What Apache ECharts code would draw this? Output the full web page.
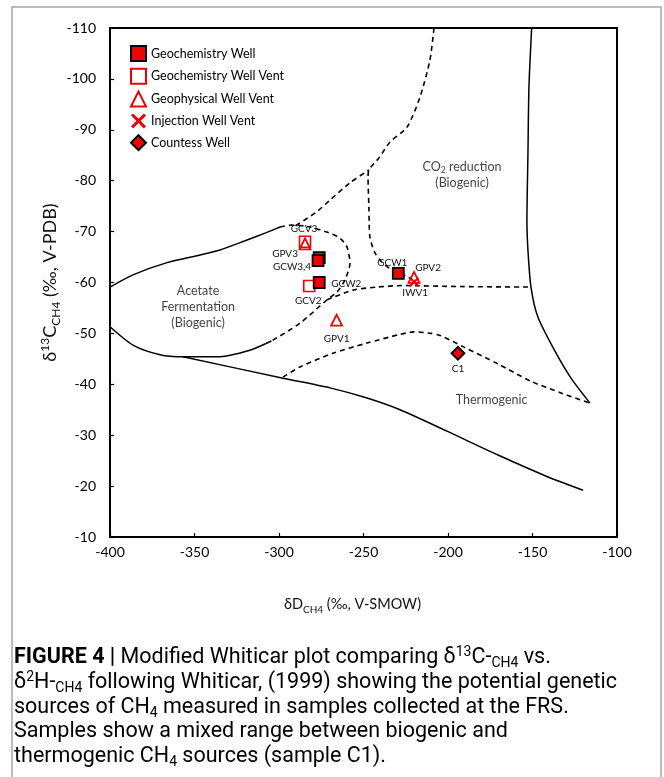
<!DOCTYPE html>
<html>
<head>
<meta charset="utf-8">
<script src="https://cdn.jsdelivr.net/npm/echarts@6/dist/echarts.min.js"></script>
<style>
html,body{margin:0;padding:0;background:#fff;}
#chart{width:664px;height:777px;}
</style>
</head>
<body>
<div id="chart"></div>
<script>
// ---------- axis ticks ----------
const xTicks = [-400, -350, -300, -250, -200, -150, -100];
const yTicks = [-110, -100, -90, -80, -70, -60, -50, -40, -30, -20, -10];

// ---------- samples: [name, δD (x), δ13C (y)] ----------
const geochemistryWell = [
  ['GCW4', -276.2, -64.9],
  ['GCW3', -276.9, -64.3],
  ['GCW2', -276.2, -60.0],
  ['GCW1', -229.4, -61.8]
];
const geochemistryWellVent = [
  ['GCV2', -282.1, -59.3],
  ['GCV3', -284.6, -68.0]
];
const geophysicalWellVent = [
  ['GPV1', -265.9, -52.6],
  ['GPV2', -220.1, -61.0],
  ['GPV3', -284.6, -67.6]
];
const injectionWellVent = [
  ['IWV1', -220.0, -60.1]
];
const countessWell = [
  ['C1', -194.1, -46.1]
];

// label texts shown next to samples
const sampleLabelText = {
  GCW4: '', GCW3: 'GCW3,4', GCW2: 'GCW2', GCW1: 'GCW1',
  GCV2: 'GCV2', GCV3: 'GCV3',
  GPV1: 'GPV1', GPV2: 'GPV2', GPV3: 'GPV3',
  IWV1: 'IWV1', C1: 'C1'
};

// ---------- Whiticar field boundaries: [δD, δ13C] ----------
const acetateUpper = [[-400, -59.1], [-386.4, -61.5], [-366.3, -63.9], [-346.7, -65.4], [-334.9, -66.4], [-320.1, -68.2], [-308.3, -69.7], [-299.4, -70.9]];
const acetateDashed = [[-299.4, -70.9], [-291.7, -71.3], [-281.7, -70.9], [-271.6, -69.9], [-263.9, -68.7], [-259.8, -67.0], [-258.0, -63.8], [-261.0, -60.5], [-265.7, -58.1], [-271.6, -56.6], [-287.6, -52.0], [-304.5, -48.5]];
const acetateLower = [[-304.5, -48.5], [-317.2, -46.7], [-336.7, -45.4], [-356.8, -45.4], [-370.4, -45.8], [-386.4, -47.7], [-400, -51.3]];
const lowerBoundary = [[-356.8, -45.4], [-297.6, -41.2], [-269.8, -39.3], [-247.9, -37.3], [-228.4, -35.0], [-200.6, -30.8], [-170.4, -26.1], [-140.8, -21.8], [-120.1, -19.2]];
const thermoRight = [[-150.5, -110], [-152.1, -98.4], [-152.7, -85.2], [-153.3, -72.1], [-152.7, -66.4], [-150.9, -59.1], [-146.8, -53.2], [-136.7, -46.5], [-127.2, -41.2], [-116.0, -36.3]];
const co2Boundary = [[-208.3, -110], [-210.7, -103.7], [-216.6, -96.4], [-224.3, -90.5], [-234.3, -87.6], [-240.8, -84.5], [-246.8, -82.1], [-247.3, -80.5], [-246.8, -74.8], [-246.2, -68.9], [-243.2, -65.8], [-238.5, -63.8], [-231.4, -62.1], [-223.7, -61.1], [-217.8, -59.7]];
const transitionLine = [[-290.0, -71.2], [-278.0, -73.8], [-269.8, -76.2], [-258.0, -79.6], [-246.8, -82.1]];
const midBoundary = [[-271.6, -56.6], [-256.2, -58.5], [-242.0, -59.1], [-226.6, -59.4], [-192.9, -59.2], [-150.9, -59.1]];
const thermoUpper = [[-297.6, -41.4], [-287.6, -43.4], [-268.1, -46.1], [-247.9, -48.1], [-228.4, -49.8], [-220.0, -50.3], [-210.0, -50.0], [-204.7, -49.6], [-190.5, -47.3], [-170.4, -44.0], [-150.9, -40.6], [-133.1, -38.3], [-116.0, -36.3]];

// ---------- field names ----------
const fieldNames = [
  ['acetate', -347.9, -55.2],
  ['co2', -191.7, -81.2],
  ['thermo', -174.2, -36.9]
];

// ---------- styling ----------
const FONT = 'Lato, "Open Sans", sans-serif';
const RED = '#f00000';
const labelOffset = {
  GCW3: [-26, 6], GCW2: [27, 1], GCW1: [-6, -11],
  GCV2: [-1, 15], GCV3: [-1, -13],
  GPV1: [0, 19], GPV2: [14, -10], GPV3: [-20, 10],
  IWV1: [1, 11], C1: [0, 16]
};

function sampleData(arr) {
  return arr.map(d => {
    const txt = sampleLabelText[d[0]];
    return {
      name: d[0],
      value: [d[1], d[2]],
      label: {
        show: !!txt,
        position: 'inside',
        offset: labelOffset[d[0]] || [0, 0],
        formatter: txt,
        color: '#111',
        fontSize: 10,
        fontFamily: FONT
      }
    };
  });
}

function boundary(name, data, dashed) {
  return {
    name: name, type: 'line', data: data, showSymbol: false, symbol: 'none',
    smooth: 0.25, silent: true, z: 1, animation: false,
    lineStyle: { color: '#000', width: dashed ? 1.6 : 1.5, type: dashed ? [5, 4] : 'solid' }
  };
}

function axisRich(size) {
  return {
    n: { fontSize: size, fontFamily: FONT, color: '#111', lineHeight: size + 5 },
    sup: { fontSize: Math.round(size * 0.66), fontFamily: FONT, color: '#111', lineHeight: Math.round(size * 0.8), verticalAlign: 'top' },
    sub: { fontSize: Math.round(size * 0.66), fontFamily: FONT, color: '#111', lineHeight: Math.round(size * 0.72), verticalAlign: 'bottom' }
  };
}

const fieldLabelText = {
  acetate: '{n|Acetate}\n{n|Fermentation}\n{n|(Biogenic)}',
  co2: '{n|CO}{s|2}{n| reduction}\n{n|(Biogenic)}',
  thermo: '{n|Thermogenic}'
};
const fieldRich = {
  n: { fontSize: 12.5, fontFamily: FONT, color: '#111', lineHeight: 16, align: 'center' },
  s: { fontSize: 8.5, fontFamily: FONT, color: '#111', lineHeight: 11, verticalAlign: 'bottom' }
};

const CAP = 21.5;
const capRich = {
  b: { fontFamily: 'Roboto', fontWeight: 'bold', fontSize: CAP, color: '#222', lineHeight: 25 },
  n: { fontFamily: 'Roboto', fontSize: CAP, color: '#222', lineHeight: 25 },
  g: { fontFamily: 'Roboto', fontSize: CAP, color: '#8a8a8a', lineHeight: 25 },
  sup: { fontFamily: 'Roboto', fontSize: 14, color: '#222', lineHeight: 14, verticalAlign: 'top' },
  sub: { fontFamily: 'Roboto', fontSize: 14, color: '#222', lineHeight: 11, verticalAlign: 'bottom' }
};
const captionLines = [
  '{b|FIGURE 4 |}{n| Modified Whiticar plot comparing δ}{sup|13}{n|C-}{sub|CH4}{n| vs.}',
  '{n|δ}{sup|2}{n|H-}{sub|CH4}{n| following }{g|Whiticar, (1999)}{n| showing the potential genetic}',
  '{n|sources of CH}{sub|4}{n| measured in samples collected at the FRS.}',
  '{n|Samples show a mixed range between biogenic and}',
  '{n|thermogenic CH}{sub|4}{n| sources (sample C1).}'
];
const captionY = [658, 683, 708, 732, 757];

const chart = echarts.init(document.getElementById('chart'), null, { renderer: 'canvas' });

const option = {
  backgroundColor: '#fff',
  animation: false,
  grid: { left: 110, top: 28, width: 507, height: 509, show: true, borderColor: '#000', borderWidth: 2, backgroundColor: 'transparent' },
  xAxis: {
    type: 'value', min: xTicks[0], max: xTicks[xTicks.length - 1], interval: 50,
    axisLine: { show: true, lineStyle: { color: '#000', width: 2 } },
    axisTick: { show: true, inside: true, length: 4, lineStyle: { color: '#000', width: 1.2 } },
    splitLine: { show: false },
    axisLabel: { color: '#000', fontSize: 14, fontFamily: FONT, margin: 8 },
    name: '{n|δD}{sub|CH4}{n| (‰, V-SMOW)}',
    nameLocation: 'middle', nameGap: 58,
    nameTextStyle: { rich: axisRich(14.5), padding: [0, 22, 0, 0] }
  },
  yAxis: {
    type: 'value', inverse: true, min: yTicks[0], max: yTicks[yTicks.length - 1], interval: 10,
    axisLine: { show: true, lineStyle: { color: '#000', width: 2 } },
    axisTick: { show: true, inside: true, length: 4, lineStyle: { color: '#000', width: 1.2 } },
    splitLine: { show: false },
    axisLabel: { color: '#000', fontSize: 14, fontFamily: FONT, margin: 14 },
    name: '{n|δ}{sup|13}{n|C}{sub|CH4}{n| (‰, V-PDB)}',
    nameLocation: 'middle', nameGap: 48, nameMoveOverlap: false,
    nameTextStyle: { rich: axisRich(18) }
  },
  legend: {
    orient: 'vertical', left: 125, top: 40,
    itemWidth: 15, itemHeight: 15, itemGap: 5.8,
    textStyle: { fontSize: 12.5, fontFamily: FONT, color: '#000' },
    data: ['Geochemistry Well', 'Geochemistry Well Vent', 'Geophysical Well Vent', 'Injection Well Vent', 'Countess Well'],
    selectedMode: false
  },
  graphic: [
    { type: 'rect', silent: true, shape: { x: 12, y: 7, width: 649, height: 800 }, style: { fill: 'none', stroke: '#a6a6a6', lineWidth: 1.5 } }
  ].concat(captionLines.map((t, i) => ({
    type: 'text', x: 14, y: captionY[i], silent: true,
    style: { text: t, rich: capRich, align: 'left', verticalAlign: 'middle' }
  }))),
  series: [
    boundary('acetateUpper', acetateUpper, false),
    boundary('acetateDashed', acetateDashed, true),
    boundary('acetateLower', acetateLower, false),
    boundary('lowerBoundary', lowerBoundary, false),
    boundary('thermoRight', thermoRight, false),
    boundary('co2Boundary', co2Boundary, true),
    boundary('transitionLine', transitionLine, true),
    boundary('midBoundary', midBoundary, true),
    boundary('thermoUpper', thermoUpper, true),
    {
      name: 'fields', type: 'scatter', silent: true, symbolSize: 1, z: 2,
      itemStyle: { color: 'rgba(0,0,0,0)' },
      data: fieldNames.map(f => ({
        name: f[0], value: [f[1], f[2]],
        label: { show: true, position: 'inside', formatter: fieldLabelText[f[0]], rich: fieldRich, align: 'center', verticalAlign: 'middle' }
      }))
    },
    {
      name: 'Geochemistry Well', type: 'scatter', symbol: 'rect', symbolSize: 11, z: 5,
      itemStyle: { color: RED, borderColor: '#000', borderWidth: 1.8, opacity: 1 },
      data: sampleData(geochemistryWell)
    },
    {
      name: 'Geochemistry Well Vent', type: 'scatter', symbol: 'rect', symbolSize: 11, z: 4,
      itemStyle: { color: '#fff', borderColor: RED, borderWidth: 1.6, opacity: 1 },
      data: sampleData(geochemistryWellVent)
    },
    {
      name: 'Geophysical Well Vent', type: 'scatter', symbol: 'triangle', symbolSize: 11, z: 6,
      itemStyle: { color: 'rgba(255,255,255,0)', borderColor: RED, borderWidth: 1.8, opacity: 1 },
      data: sampleData(geophysicalWellVent)
    },
    {
      name: 'Injection Well Vent', type: 'scatter', z: 7,
      symbol: 'path://M0,1.4L1.4,0L5,3.6L8.6,0L10,1.4L6.4,5L10,8.6L8.6,10L5,6.4L1.4,10L0,8.6L3.6,5Z',
      symbolSize: 10,
      itemStyle: { color: RED, borderWidth: 0, opacity: 1 },
      data: sampleData(injectionWellVent)
    },
    {
      name: 'Countess Well', type: 'scatter', symbol: 'diamond', symbolSize: [13, 13], z: 5,
      itemStyle: { color: RED, borderColor: '#000', borderWidth: 1.8, opacity: 1 },
      data: sampleData(countessWell)
    }
  ]
};
chart.setOption(option);
</script>
</body>
</html>
